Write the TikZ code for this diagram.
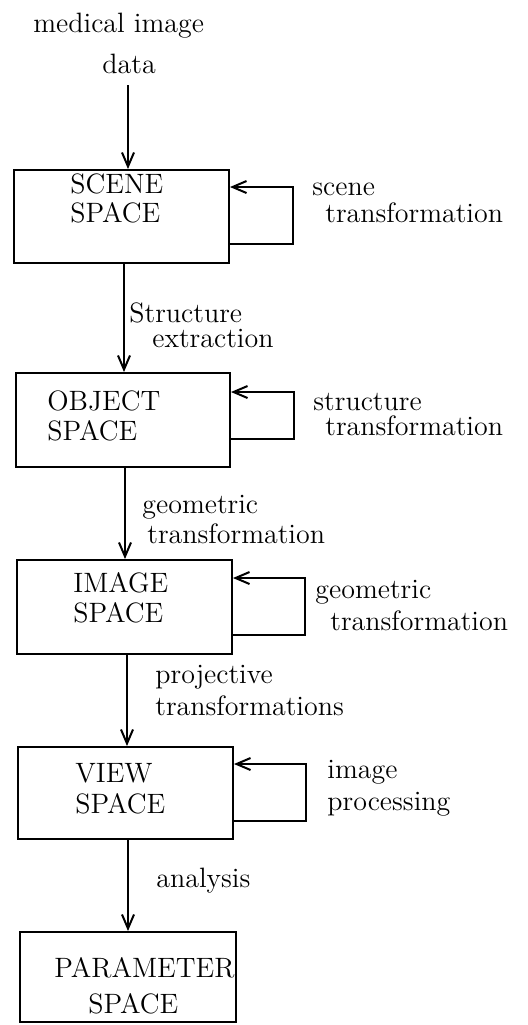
\documentclass[tikz,border=0pt]{standalone}
\usetikzlibrary{arrows.meta,fit,calc}
\begin{document}
\begin{tikzpicture}[x=0.5pt,y=-0.5pt,
  box/.style={draw,line width=1pt,inner sep=0pt},
  arr/.style={draw,line width=1pt,-{Straight Barb[length=7pt,width=6pt,line width=1pt]}},
  lbl/.style={anchor=base west,inner sep=0pt,font=\fontsize{14}{16.5}\selectfont}]
\useasboundingbox (0,0) rectangle (527,1025);

% the five spaces
\node[box,fit={(14,170) (229,263)}] (scene) {};
\node[box,fit={(16,373) (230,467)}] (object) {};
\node[box,fit={(17,560) (232,654)}] (image) {};
\node[box,fit={(18,747) (233,839)}] (view) {};
\node[box,fit={(20,932) (236,1022)}] (param) {};

% box titles
\node[lbl] (t1a) at (70,193) {SCENE};
\node[lbl] (t1b) at (70,222) {SPACE};
\node[lbl] (t2a) at (47,410) {OBJECT};
\node[lbl] (t2b) at (47,440) {SPACE};
\node[lbl] (t3a) at (73,592) {IMAGE};
\node[lbl] (t3b) at (73,622) {SPACE};
\node[lbl] (t4a) at (75,782) {VIEW};
\node[lbl] (t4b) at (75,813) {SPACE};
\node[lbl] (t5a) at (54,977) {PARAMETER};
\node[lbl] (t5b) at (88,1013) {SPACE};

% input
\node[lbl] (in1) at (33,32) {medical image};
\node[lbl] (in2) at (102,73) {data};
\coordinate (din) at (128,85);
\draw[arr] (din) -- (din |- scene.north);

% transitions between spaces
\draw[arr] ([xshift=1.25pt]scene.south) -- ([xshift=1.25pt]scene.south |- object.north);
\draw[arr] ([xshift=1pt]object.south) -- ([xshift=1pt]object.south |- image.north);
\draw[arr] ([xshift=1.25pt]image.south) -- ([xshift=1.25pt]image.south |- view.north);
\draw[arr] ([xshift=1.25pt]view.south) -- ([xshift=1.25pt]view.south |- param.north);

\node[lbl] (e1a) at (129,322) {Structure};
\node[lbl] (e1b) at (152,347) {extraction};
\node[lbl] (e2a) at (142,513) {geometric};
\node[lbl] (e2b) at (147,543) {transformation};
\node[lbl] (e3a) at (155,683) {projective};
\node[lbl] (e3b) at (155,715) {transformations};
\node[lbl] (e4) at (156,887) {analysis};

% self loops
\draw[arr] ($(scene.south east)+(0,-20)$) -- ++(63,0) |- ($(scene.north east)+(0,18)$);
\draw[arr] ($(object.south east)+(0,-29)$) -- ++(63,0) |- ($(object.north east)+(0,20)$);
\draw[arr] ($(image.south east)+(0,-20)$) -- ++(72,0) |- ($(image.north east)+(0,19)$);
\draw[arr] ($(view.south east)+(0,-19)$) -- ++(72,0) |- ($(view.north east)+(0,18)$);

\node[lbl] (l1a) at (312,195) {scene};
\node[lbl] (l1b) at (325,222) {transformation};
\node[lbl] (l2a) at (313,410) {structure};
\node[lbl] (l2b) at (325,435) {transformation};
\node[lbl] (l3a) at (315,598) {geometric};
\node[lbl] (l3b) at (330,630) {transformation};
\node[lbl] (l4a) at (327,778) {image};
\node[lbl] (l4b) at (327,810) {processing};
\end{tikzpicture}
\end{document}
